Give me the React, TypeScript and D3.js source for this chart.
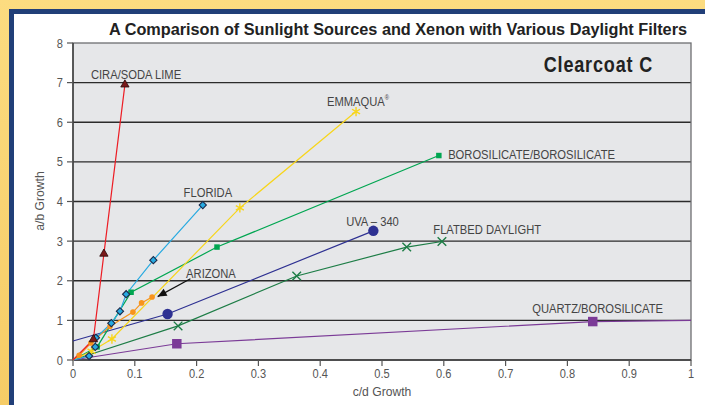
import React from "react";
import * as d3 from "d3";

const title = "A Comparison of Sunlight Sources and Xenon with Various Daylight Filters";
const subtitle = "Clearcoat C";
const xTicks = [0, 0.1, 0.2, 0.3, 0.4, 0.5, 0.6, 0.7, 0.8, 0.9, 1];
const yTicks = [0, 1, 2, 3, 4, 5, 6, 7, 8];

const quartz: [number, number][] = [[0, 0], [0.168, 0.41], [0.841, 0.97], [1, 1.0]];
const quartzMarks: [number, number][] = [[0.168, 0.41], [0.841, 0.97]];
const flatbed: [number, number][] = [[0, 0], [0.17, 0.86], [0.362, 2.12], [0.54, 2.85], [0.597, 2.99]];
const uva: [number, number][] = [[0, 0.48], [0.153, 1.16], [0.486, 3.26]];
const uvaMarks: [number, number][] = [[0.153, 1.16], [0.486, 3.26]];
const boro: [number, number][] = [[0, 0], [0.039, 0.33], [0.094, 1.71], [0.233, 2.85], [0.592, 5.16]];
const emmaqua: [number, number][] = [[0, 0], [0.03, 0.22], [0.063, 0.53], [0.27, 3.84], [0.458, 6.27]];
const arizona: [number, number][] = [[0, 0], [0.01, 0.12], [0.029, 0.43], [0.06, 0.85], [0.097, 1.21], [0.111, 1.44], [0.128, 1.59]];
const florida: [number, number][] = [[0, 0], [0.026, 0.1], [0.036, 0.33], [0.037, 0.56], [0.062, 0.93], [0.076, 1.23], [0.086, 1.66], [0.13, 2.52], [0.21, 3.91]];
const cira: [number, number][] = [[0, 0], [0.033, 0.52], [0.05, 2.68], [0.084, 6.95]];

const labels = [
  { text: "CIRA/SODA LIME", x: 0.029, y: 7.1 },
  { text: "EMMAQUA", x: 0.411, y: 6.41, sup: "®" },
  { text: "FLORIDA", x: 0.179, y: 4.12 },
  { text: "BOROSILICATE/BOROSILICATE", x: 0.607, y: 5.08 },
  { text: "UVA – 340", x: 0.442, y: 3.38 },
  { text: "FLATBED DAYLIGHT", x: 0.583, y: 3.18 },
  { text: "ARIZONA", x: 0.183, y: 2.07 },
  { text: "QUARTZ/BOROSILICATE", x: 0.743, y: 1.19 },
];
const arrowFrom: [number, number] = [0.19, 2.05];
const arrowTo: [number, number] = [0.137, 1.6];

function NText(props: { x: number; y: number; sx?: number; anchor?: string; size?: number; fill?: string; weight?: string; family?: string; spacing?: number; children?: React.ReactNode }) {
  const { x, y, sx = 0.84, anchor = "start", size = 13, fill = "#444", weight = "normal", family, spacing } = props;
  return (
    <text transform={`translate(${x},${y}) scale(${sx},1)`} textAnchor={anchor} fontSize={size} fill={fill} fontWeight={weight} fontFamily={family} letterSpacing={spacing}>
      {props.children}
    </text>
  );
}

export default function App() {
  const W = 705, H = 405;
  const x = d3.scaleLinear().domain([0, 1]).range([73, 691]);
  const y = d3.scaleLinear().domain([0, 8]).range([360, 43]);
  const line = d3.line<[number, number]>().x(d => x(d[0])).y(d => y(d[1]));
  const sym = (t: d3.SymbolType, s: number) => d3.symbol().type(t).size(s)() as string;
  const font = "'Liberation Sans', Arial, sans-serif";

  const series = [
    { data: quartz, color: "#7b3b97", marks: quartzMarks, kind: "bigsquare" },
    { data: flatbed, color: "#1d7d46", marks: flatbed.slice(1), kind: "times" },
    { data: uva, color: "#2e3192", marks: uvaMarks, kind: "circle" },
    { data: boro, color: "#00a651", marks: boro.slice(1), kind: "square" },
    { data: emmaqua, color: "#f7d51b", marks: emmaqua.slice(1), kind: "asterisk" },
    { data: arizona, color: "#f7941d", marks: arizona.slice(1), kind: "dot" },
    { data: florida, color: "#27aae1", marks: florida.slice(1), kind: "diamond" },
    { data: cira, color: "#ed1c24", marks: cira.slice(1), kind: "triangle" },
  ];

  const renderMark = (kind: string, color: string, p: [number, number], i: number) => {
    const t = `translate(${x(p[0])},${y(p[1])})`;
    switch (kind) {
      case "bigsquare":
        return <path key={i} transform={t} d={sym(d3.symbolSquare, 90)} fill={color} />;
      case "times":
        return <path key={i} transform={t} d={sym(d3.symbolTimes, 50)} fill="none" stroke={color} strokeWidth={1.4} />;
      case "circle":
        return <path key={i} transform={t} d={sym(d3.symbolCircle, 85)} fill={color} />;
      case "square":
        return <path key={i} transform={t} d={sym(d3.symbolSquare, 30)} fill={color} />;
      case "asterisk":
        return <path key={i} transform={t} d={sym(d3.symbolAsterisk, 60)} fill="none" stroke={color} strokeWidth={1.4} />;
      case "dot":
        return <path key={i} transform={t} d={sym(d3.symbolCircle, 25)} fill={color} />;
      case "diamond":
        return <path key={i} transform={`${t} rotate(45)`} d={sym(d3.symbolSquare, 26)} fill={color} stroke="#1b2a4a" strokeWidth={1.1} />;
      case "triangle":
        return <path key={i} transform={t} d={sym(d3.symbolTriangle, 30)} fill="#7a1a1a" stroke="#2a0a0a" strokeWidth={0.8} />;
    }
    return null;
  };

  const ax = x(arrowTo[0]), ay = y(arrowTo[1]);
  const bx = x(arrowFrom[0]), by = y(arrowFrom[1]);
  const ang = Math.atan2(ay - by, ax - bx);
  const hl = 9, hw = 4;
  const head = [
    [ax, ay],
    [ax - hl * Math.cos(ang) + hw * Math.sin(ang), ay - hl * Math.sin(ang) - hw * Math.cos(ang)],
    [ax - hl * Math.cos(ang) - hw * Math.sin(ang), ay - hl * Math.sin(ang) + hw * Math.cos(ang)],
  ].map(p => p.join(",")).join(" ");

  return (
    <svg width={W} height={H} style={{ position: "fixed", left: 0, top: 0 }} fontFamily={font}>
      <defs>
        <linearGradient id="bg" x1="0" y1="0" x2="0" y2="1">
          <stop offset="0" stopColor="#fcdc80" />
          <stop offset="1" stopColor="#f6cc66" />
        </linearGradient>
      </defs>
      <rect x={0} y={0} width={W} height={H} fill="url(#bg)" />
      <rect x={9} y={9} width={W} height={H} fill="#213f78" />
      <rect x={14} y={14} width={W} height={H} fill="#ffffff" />

      <text x={398} y={35} textAnchor="middle" fontSize={16} fontWeight="bold" fill="#222" textLength={578} lengthAdjust="spacingAndGlyphs">{title}</text>

      <rect x={73} y={43} width={618} height={317} fill="#e6e7e9" />
      {yTicks.filter(t => t > 0 && t < 8).map(t => (
        <line key={t} x1={73} x2={691} y1={y(t)} y2={y(t)} stroke="#2b2b2b" strokeWidth={1.3} />
      ))}
      <rect x={73} y={43} width={618} height={317} fill="none" stroke="#6d6e71" strokeWidth={1.3} />
      <line x1={73} x2={691} y1={360} y2={360} stroke="#333" strokeWidth={1.3} />
      <line x1={73} x2={73} y1={43} y2={360} stroke="#333" strokeWidth={1.3} />

      {yTicks.map(t => (
        <g key={t}>
          <line x1={67} x2={73} y1={y(t)} y2={y(t)} stroke="#555" strokeWidth={1.2} />
          <NText x={63} y={y(t) + 4.5} anchor="end" size={13.5} fill="#555" sx={0.82}>{t}</NText>
        </g>
      ))}
      {xTicks.map(t => (
        <g key={t}>
          <line x1={x(t)} x2={x(t)} y1={360} y2={366} stroke="#555" strokeWidth={1.2} />
          <NText x={x(t)} y={378} anchor="middle" size={13.5} fill="#555" sx={0.82}>{t}</NText>
        </g>
      ))}
      <NText x={382} y={396} anchor="middle" size={13.5} fill="#555" sx={0.9}>c/d Growth</NText>
      <g transform={`translate(44,${201}) rotate(-90)`}>
        <NText x={0} y={0} anchor="middle" size={13.5} fill="#555" sx={0.9}>a/b Growth</NText>
      </g>

      <NText x={653} y={72} anchor="end" size={22} weight="bold" fill="#222" sx={0.82} spacing={1}>{subtitle}</NText>

      {series.map((s, i) => (
        <path key={i} d={line(s.data) as string} fill="none" stroke={s.color} strokeWidth={1.2} />
      ))}
      {series.map((s, i) => (
        <g key={i}>{s.marks.map((p, j) => renderMark(s.kind, s.color, p, j))}</g>
      ))}

      <line x1={bx} y1={by} x2={ax} y2={ay} stroke="#111" strokeWidth={1.2} />
      <polygon points={head} fill="#111" />

      {labels.map((l, i) => (
        <NText key={i} x={x(l.x)} y={y(l.y)} size={13.5} fill="#444" sx={0.83}>
          {l.text}
          {l.sup ? <tspan fontSize={7} dy={-6}>{l.sup}</tspan> : null}
        </NText>
      ))}
    </svg>
  );
}
